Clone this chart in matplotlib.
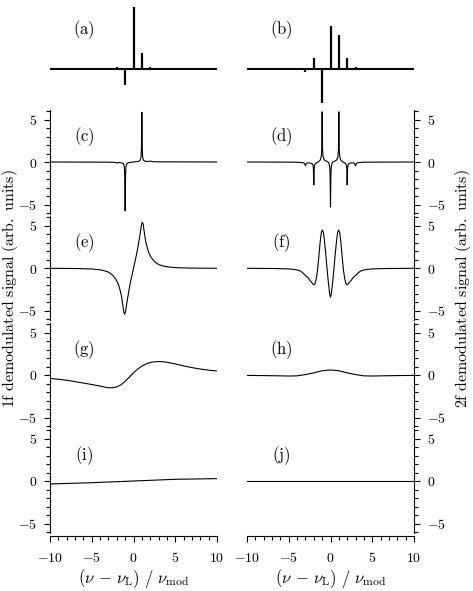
import matplotlib
matplotlib.use('Agg')
import matplotlib.pyplot as plt
from matplotlib.ticker import MultipleLocator

plt.rcParams['mathtext.fontset'] = 'cm'
plt.rcParams['font.family'] = ['DejaVu Serif']

# (a), (b): stick spectra (sideband order, amplitude)
n_a = [-2, -1, 0, 1, 2]
amp_a = [0.03, -0.24, 0.94, 0.24, 0.03]
n_b = [-3, -2, -1, 0, 1, 2, 3]
amp_b = [-0.04, 0.17, -0.51, 0.65, 0.51, 0.17, 0.04]

# (c) 1f, narrow line
x_c = [-10, -3, -2.3, -2.1, -2.0, -1.9, -1.7, -1.4, -1.2, -1.1, -1.05, -1.02, -1.0, -0.98, -0.95,
       -0.9, -0.8, -0.6, -0.3, 0, 0.3, 0.6, 0.8, 0.9, 0.95, 0.98, 1.0, 1.02, 1.05, 1.1, 1.2, 1.4,
       1.7, 1.9, 2.0, 2.1, 2.3, 3, 10]
y_c = [0, -0.02, -0.04, -0.08, -0.12, -0.08, -0.06, -0.1, -0.2, -0.55, -1.5, -3.6, -5.75, -3.6, -1.5,
       -0.55, -0.2, -0.08, -0.03, 0, 0.03, 0.08, 0.2, 0.55, 1.5, 3.6, 5.85, 3.6, 1.5, 0.55, 0.2, 0.1,
       0.06, 0.08, 0.12, 0.08, 0.04, 0.02, 0]

# (d) 2f, narrow line
x_d = [-10, -4, -3.2, -3.1, -3.0, -2.9, -2.8, -2.5, -2.2, -2.1, -2.05, -2.02, -2.0, -1.98, -1.95,
       -1.9, -1.8, -1.7, -1.5, -1.3, -1.2, -1.1, -1.05, -1.02, -1.0, -0.98, -0.95, -0.9, -0.8, -0.7,
       -0.5, -0.35, -0.2, -0.1, -0.05, -0.02, 0, 0.02, 0.05, 0.1, 0.2, 0.35, 0.5, 0.7, 0.8, 0.9,
       0.95, 0.98, 1.0, 1.02, 1.05, 1.1, 1.2, 1.3, 1.5, 1.7, 1.8, 1.9, 1.95, 1.98, 2.0, 2.02, 2.05,
       2.1, 2.2, 2.5, 2.8, 2.9, 3.0, 3.1, 3.2, 4, 10]
y_d = [0, -0.02, -0.1, -0.2, -0.45, -0.2, -0.12, -0.1, -0.2, -0.35, -0.75, -1.8, -2.7, -1.8, -0.75,
       -0.35, -0.2, -0.1, 0.0, 0.15, 0.3, 0.7, 1.5, 3.6, 5.9, 3.6, 1.5, 0.7, 0.35, 0.2,
       0.1, 0.05, -0.1, -0.5, -1.4, -3.5, -5.3, -3.5, -1.4, -0.5, -0.1, 0.05, 0.1, 0.2, 0.35, 0.7,
       1.5, 3.6, 5.9, 3.6, 1.5, 0.7, 0.3, 0.15, 0.0, -0.1, -0.2, -0.35, -0.75, -1.8, -2.7, -1.8, -0.75,
       -0.35, -0.2, -0.1, -0.12, -0.2, -0.45, -0.2, -0.1, -0.02, 0]

# (e) 1f, medium line
x_e = [-10, -6.5, -5, -4, -3.5, -3, -2.5, -2.1, -1.8, -1.6, -1.45, -1.3, -1.15, -1.05, -0.95,
       -0.8, -0.6, -0.4, -0.2, 0, 0.2, 0.4, 0.6, 0.8, 0.95, 1.05, 1.15, 1.3, 1.45, 1.6, 1.8,
       2.1, 2.5, 3, 3.5, 4, 5, 6.5, 10]
y_e = [0, -0.03, -0.08, -0.18, -0.28, -0.45, -0.8, -1.3, -1.9, -2.6, -3.2, -4.2, -5.2, -5.4, -5.1,
       -4.1, -2.9, -1.8, -0.9, 0, 0.9, 1.8, 2.9, 4.1, 5.1, 5.4, 5.2, 4.2, 3.2, 2.6, 1.9,
       1.3, 0.8, 0.45, 0.28, 0.18, 0.08, 0.03, 0]

# (f) 2f, medium line
x_f = [-10, -6.5, -5, -4.2, -3.65, -3.35, -3.05, -2.7, -2.45, -2.3, -2.1, -1.98, -1.85, -1.7,
       -1.55, -1.4, -1.25, -1.1, -0.97, -0.85, -0.7, -0.55, -0.4, -0.25, -0.1, 0, 0.1, 0.25, 0.4,
       0.55, 0.7, 0.85, 0.97, 1.1, 1.25, 1.4, 1.55, 1.7, 1.85, 1.98, 2.1, 2.3, 2.45, 2.7, 3.05,
       3.35, 3.65, 4.2, 5, 6.5, 10]
y_f = [0, -0.03, -0.07, -0.15, -0.3, -0.5, -0.8, -1.1, -1.45, -1.6, -1.85, -1.95, -1.8, -1.2,
       -0.2, 1.3, 3.0, 4.2, 4.5, 4.2, 3.0, 1.5, -0.2, -1.7, -3.0, -3.4, -3.0, -1.7, -0.2,
       1.5, 3.0, 4.2, 4.5, 4.2, 3.0, 1.3, -0.2, -1.2, -1.8, -1.95, -1.85, -1.6, -1.45, -1.1, -0.8,
       -0.5, -0.3, -0.15, -0.07, -0.03, 0]

# (g) 1f, wide line
x_g = [-10, -9, -8, -7, -6, -5, -4, -3.5, -3, -2.5, -2, -1.5, -1, -0.5, 0, 0.5, 1, 1.5, 2, 2.5,
       3, 3.5, 4, 5, 6, 7, 8, 9, 10]
y_g = [-0.4, -0.5, -0.62, -0.78, -0.95, -1.12, -1.3, -1.42, -1.5, -1.5, -1.4, -1.15, -0.75, -0.25,
       0.25, 0.7, 1.05, 1.3, 1.47, 1.55, 1.58, 1.56, 1.5, 1.3, 1.07, 0.87, 0.7, 0.57, 0.47]

# (h) 2f, wide line
x_h = [-10, -8, -6, -5, -4, -3, -2, -1, 0, 1, 2, 3, 4, 5, 6, 8, 10]
y_h = [-0.05, -0.07, -0.1, -0.12, -0.1, 0.05, 0.25, 0.5, 0.6, 0.5, 0.25, 0.05, -0.1, -0.12, -0.1,
       -0.07, -0.05]

# (i) 1f, very wide line
x_i = [-10, -5, 0, 5, 10]
y_i = [-0.35, -0.2, 0.0, 0.2, 0.28]

# (j) 2f, very wide line
x_j = [-10, 10]
y_j = [0, 0]

panel_labels = ['(a)', '(b)', '(c)', '(d)', '(e)', '(f)', '(g)', '(h)', '(i)', '(j)']

W, H = 473, 591
fig = plt.figure(figsize=(W / 100, H / 100), dpi=100)


def rect(left, top, w, h):
    return [left / W, 1 - (top + h) / H, w / W, h / H]


col_left = [50, 247]
col_w = 167
row_zero = [162, 268.3, 375, 481]
row_h = 103.7

# top stick spectra
for k, (n, amp) in enumerate([(n_a, amp_a), (n_b, amp_b)]):
    ax = fig.add_axes(rect(col_left[k], 2, col_w, 106))
    ax.axhline(0, color='black', lw=1.5)
    ax.vlines(n, 0, amp, color='black', lw=1.6)
    ax.set_xlim(-10, 10)
    ax.set_ylim(-0.58, 1.01)
    ax.axis('off')
    ax.text(-5.9, 0.59, r'$\mathrm{' + panel_labels[k] + '}$', fontsize=12,
            ha='center', va='center')

curves = [(x_c, y_c), (x_d, y_d), (x_e, y_e), (x_f, y_f),
          (x_g, y_g), (x_h, y_h), (x_i, y_i), (x_j, y_j)]

for idx, (xs, ys) in enumerate(curves):
    r, c = idx // 2, idx % 2
    top = row_zero[r] - row_h / 2
    ax = fig.add_axes(rect(col_left[c], top, col_w, row_h))
    ax.patch.set_alpha(0)
    ax.plot(xs, ys, color='black', lw=0.8)
    ax.set_xlim(-10, 10)
    ax.set_ylim(-6.1, 6.1)
    for s in ['top', 'left', 'right', 'bottom']:
        ax.spines[s].set_visible(False)
    side = 'left' if c == 0 else 'right'
    ax.spines[side].set_visible(True)
    ax.spines[side].set_linewidth(0.8)
    ax.yaxis.set_ticks_position(side)
    ax.set_yticks([-5, 0, 5])
    ax.set_yticklabels([r'$-5$', r'$0$', r'$5$'])
    ax.yaxis.set_minor_locator(MultipleLocator(1))
    ax.tick_params(axis='y', which='major', direction='out', length=4.1, width=0.8,
                   labelsize=10, pad=5)
    ax.tick_params(axis='y', which='minor', direction='out', length=2.6, width=0.8)
    if r == 3:
        ax.spines['bottom'].set_visible(True)
        ax.spines['bottom'].set_linewidth(0.8)
        ax.spines['bottom'].set_position(('outward', 2))
        ax.set_xticks([-10, -5, 0, 5, 10])
        ax.set_xticklabels([r'$-10$', r'$-5$', r'$0$', r'$5$', r'$10$'])
        ax.xaxis.set_minor_locator(MultipleLocator(1))
        ax.tick_params(axis='x', which='major', direction='out', length=4.1, width=0.8,
                       labelsize=10, pad=7)
        ax.tick_params(axis='x', which='minor', direction='out', length=2.6, width=0.8)
    else:
        ax.set_xticks([])
    ax.text(-5.9, 3.0, r'$\mathrm{' + panel_labels[idx + 2] + '}$', fontsize=12,
            ha='center', va='center')

xlab = r'$(\nu\,-\,\nu_{\mathrm{L}})\ /\ \nu_{\mathrm{mod}}$'
fig.text((col_left[0] + col_w / 2) / W, 1 - 579 / H, xlab, fontsize=12, ha='center', va='center')
fig.text((col_left[1] + col_w / 2) / W, 1 - 579 / H, xlab, fontsize=12, ha='center', va='center')

fig.text(10 / W, 1 - 289 / H, r'$\mathrm{1f\ demodulated\ signal\ (arb.\ units)}$',
         fontsize=11.5, rotation=90, ha='center', va='center')
fig.text(463 / W, 1 - 289 / H, r'$\mathrm{2f\ demodulated\ signal\ (arb.\ units)}$',
         fontsize=11.5, rotation=90, ha='center', va='center')

fig.savefig('out.png', dpi=100)
